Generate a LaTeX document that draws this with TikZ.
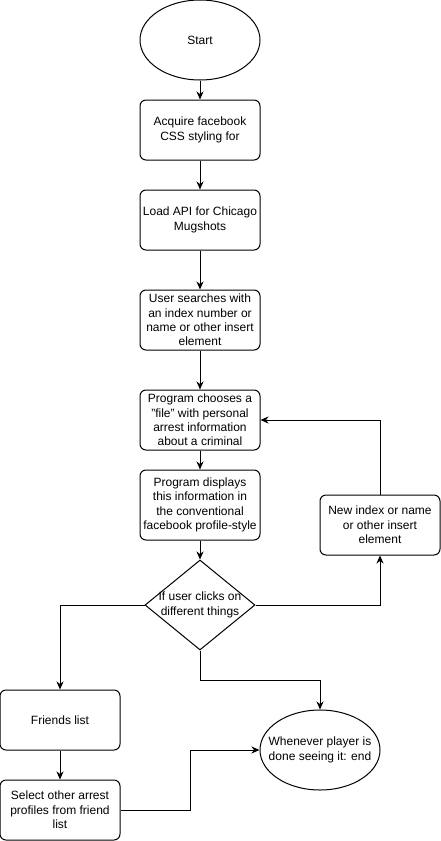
\documentclass[tikz,border=0pt]{standalone}
\usepackage{fontspec}
\setmainfont{Liberation Sans}
\usetikzlibrary{shapes.geometric,arrows.meta}

\begin{document}
\begin{tikzpicture}[x=1pt, y=-1pt, line width=1pt, >={Stealth[length=8pt,width=7pt,inset=2.5pt]},
		font=\fontsize{12}{14.3}\selectfont,
		box/.style = {draw, rounded corners=6pt, minimum width=120pt, minimum height=60pt, align=center, inner sep=1pt},
		oval/.style = {draw, ellipse, minimum width=120pt, minimum height=80pt, align=center, inner sep=0pt},
		choice/.style = {draw, diamond, minimum width=110pt, minimum height=90pt, inner sep=0pt}]
				\useasboundingbox (0,0) rectangle (441,841);
				
				\node[oval] (start) at (200,40) {Start};
				\node[box] (css) at (200,130) {Acquire facebook\\CSS styling for};
				\node[box] (api) at (200,220) {Load API for Chicago\\Mugshots};
				\node[box] (search) at (200,320) {User searches with\\an index number or\\name or other insert\\element};
				\node[box] (choose) at (200,420) {Program chooses a\\"file" with personal\\arrest information\\about a criminal};
				\node[box, minimum height=70pt] (show) at (200,505) {Program displays\\this information in\\the conventional\\facebook profile-style};
				\node[choice, label={[align=center]center:If user clicks on\\different things}] (clicks) at (200,605) {};
				\node[box] (newidx) at (380,525) {New index or name\\or other insert\\element};
				\node[box] (friends) at (60,720) {Friends list};
				\node[box] (other) at (60,810) {Select other arrest\\profiles from friend\\list};
				\node[oval, label={[align=center]center:Whenever player is\\done seeing it: end}] (stop) at (320,750) {};
				
				\draw[->] (start) -- (css);
				\draw[->] (css) -- (api);
				\draw[->] (api) -- (search);
				\draw[->] (search) -- (choose);
				\draw[->] (choose) -- (show);
				\draw[->] (show) -- (clicks);
				\draw[->] (clicks.east) -| (newidx.south);
				\draw[->] (newidx.north) |- (choose.east);
				\draw[->] (clicks.west) -| (friends.north);
				\draw[->] (clicks.south) -- ++(0,30) -| (stop.north);
				\draw[->] (friends) -- (other);
				\draw[->] (other.east) -- ++(70,0) |- (stop.west);
			\end{tikzpicture}
\end{document}
